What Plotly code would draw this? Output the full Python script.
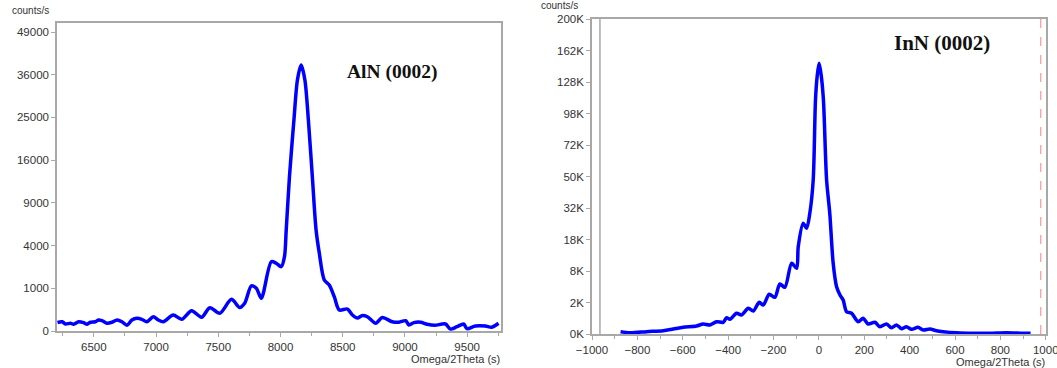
import numpy as np
import plotly.graph_objects as go

# ---- data: AlN (0002) ----
aln_x = [6208, 6246, 6272, 6312, 6338, 6378, 6418, 6446, 6472, 6512, 6538, 6566, 6606, 6646,
         6686, 6726, 6766, 6806, 6846, 6886, 6926, 6978, 7018, 7058, 7138, 7206, 7286, 7366,
         7432, 7512, 7606, 7672, 7712, 7766, 7806, 7846, 7926, 7966, 8006, 8032, 8046,
         8072, 8108, 8136, 8166, 8196, 8224, 8256, 8286, 8312, 8352, 8392, 8432, 8472, 8538,
         8578, 8618, 8658, 8698, 8766, 8818, 8898, 8952, 9006, 9032, 9072, 9126, 9178, 9240,
         9326, 9366, 9418, 9472, 9498, 9566, 9646, 9698, 9752]
aln_y = [40, 47, 27, 33, 25, 47, 38, 25, 42, 47, 66, 58, 33, 42,
         66, 47, 18, 66, 88, 75, 47, 112, 66, 47, 140, 75, 226, 103,
         298, 172, 551, 303, 421, 1111, 1000, 586, 2634, 2514, 2268, 3028, 5595,
         13008, 24420, 34556, 38810, 34556, 24420, 13008, 5595, 3311, 1427, 1161, 645, 242, 265,
         140, 93, 132, 112, 33, 100, 47, 42, 58, 20, 38, 42, 25, 18,
         27, 2, 10, 27, 3, 14, 14, 8, 33]

# ---- data: InN (0002) ----
inn_x = [-874, -833, -759, -686, -642, -598, -539, -510, -480, -451, -422, -407, -392, -363,
         -341, -311, -289, -263, -245, -219, -194, -172, -150, -120, -98, -91, -69, -54, -40,
         -25, -15, -7, 1, 10, 20, 34, 48, 63, 78, 93, 107, 122, 144, 173, 195, 217, 247, 269,
         298, 320, 342, 364, 386, 408, 437, 460, 489, 518, 548, 607, 680, 753, 826, 900, 933]
inn_y = [11, 3, 11, 22, 50, 90, 129, 202, 163, 305, 276, 536, 435, 864,
         728, 1331, 1066, 2025, 1695, 3177, 2715, 5039, 4396, 10075, 8700, 15360, 24700, 22520, 29365,
         47800, 110400, 135200, 147700, 135200, 110400, 47800, 29365, 10075, 4510, 3066, 2330, 1002,
         864, 305, 497, 202, 276, 107,
         202, 80, 163, 57, 107, 44, 90, 32, 50, 22, 11, 3, 1, 1, 3, 1, 1]

aln_ticks = [0, 1000, 4000, 9000, 16000, 25000, 36000, 49000]
aln_tick_text = ["0", "1000", "4000", "9000", "16000", "25000", "36000", "49000"]
inn_ticks = [0, 2000, 8000, 18000, 32000, 50000, 72000, 98000, 128000, 162000, 200000]
inn_tick_text = ["0K", "2K", "8K", "18K", "32K", "50K", "72K", "98K", "128K", "162K", "200K"]

W, H = 1057, 368
def fx(p): return p / W
def fy(p): return 1 - p / H

blue = "#0000ff"
grid_col = "#a8a8a8"
tick_font = dict(family="Liberation Sans, Arial", size=11.5, color="#333333")

fig = go.Figure()
fig.add_trace(go.Scatter(x=aln_x, y=np.sqrt(aln_y), mode="lines",
                         line=dict(color=blue, width=3.5, shape="spline", smoothing=0.8),
                         xaxis="x", yaxis="y", showlegend=False))
fig.add_trace(go.Scatter(x=inn_x, y=np.sqrt(inn_y), mode="lines",
                         line=dict(color=blue, width=3.5, shape="spline", smoothing=0.8),
                         xaxis="x2", yaxis="y2", showlegend=False))

common = dict(showgrid=False, zeroline=False, showline=True, linecolor=grid_col, linewidth=1.5,
              mirror=True, ticks="outside", ticklen=4, tickcolor=grid_col, tickfont=tick_font,
              automargin=False, ticklabeloverflow="allow")

fig.update_layout(
    template="none",
    width=W, height=H, margin=dict(l=0, r=0, t=0, b=0, autoexpand=False),
    paper_bgcolor="white", plot_bgcolor="white",
    xaxis=dict(domain=[fx(57), fx(501)], range=[6204, 9772], tick0=6500, dtick=500,
               minor=dict(dtick=250, ticks="outside", ticklen=3, tickcolor=grid_col),
               anchor="y", **common),
    yaxis=dict(domain=[fy(331), fy(23)], range=[0, np.sqrt(52000)],
               tickmode="array", tickvals=np.sqrt(aln_ticks).tolist(), ticktext=aln_tick_text,
               anchor="x", **common),
    xaxis2=dict(domain=[fx(592), fx(1046)], range=[-1000, 1001], tick0=-1000, dtick=200,
                minor=dict(dtick=100, ticks="outside", ticklen=3, tickcolor=grid_col),
                anchor="y2", **common),
    yaxis2=dict(domain=[fy(334), fy(19)], range=[0, np.sqrt(200000)],
                tickmode="array", tickvals=np.sqrt(inn_ticks).tolist(), ticktext=inn_tick_text,
                anchor="x2", **common),
)

# marker lines in right panel
fig.add_shape(type="line", xref="x2", yref="paper", x0=-965, x1=-965,
              y0=fy(334), y1=fy(19), line=dict(color=grid_col, width=1.5))
fig.add_shape(type="line", xref="x2", yref="paper", x0=978, x1=978,
              y0=fy(334), y1=fy(19), line=dict(color="#ff8080", width=1, dash="dash"))

ann_font = dict(family="Liberation Sans, Arial", size=10, color="#333333")
fig.add_annotation(text="counts/s", xref="paper", yref="paper", x=fx(30), y=fy(10),
                   showarrow=False, font=ann_font, xanchor="center", yanchor="middle")
fig.add_annotation(text="counts/s", xref="paper", yref="paper", x=fx(559), y=fy(6),
                   showarrow=False, font=ann_font, xanchor="center", yanchor="middle")
fig.add_annotation(text="Omega/2Theta (s)", xref="paper", yref="paper", x=fx(501), y=fy(359),
                   showarrow=False, font=dict(family="Liberation Sans, Arial", size=11, color="#333333"),
                   xanchor="right", yanchor="middle", borderpad=0)
fig.add_annotation(text="Omega/2Theta (s)", xref="paper", yref="paper", x=fx(1046), y=fy(362),
                   showarrow=False, font=dict(family="Liberation Sans, Arial", size=11, color="#333333"),
                   xanchor="right", yanchor="middle", borderpad=0)

fig.add_annotation(text="<b>AlN (0002)</b>", xref="paper", yref="paper", x=fx(392), y=fy(72),
                   showarrow=False, font=dict(family="Liberation Serif, Times New Roman", size=19.5, color="#111111"),
                   xanchor="center", yanchor="middle")
fig.add_annotation(text="<b>InN (0002)</b>", xref="paper", yref="paper", x=fx(942), y=fy(43),
                   showarrow=False, font=dict(family="Liberation Serif, Times New Roman", size=21, color="#111111"),
                   xanchor="center", yanchor="middle")

fig.write_html("out.html")
